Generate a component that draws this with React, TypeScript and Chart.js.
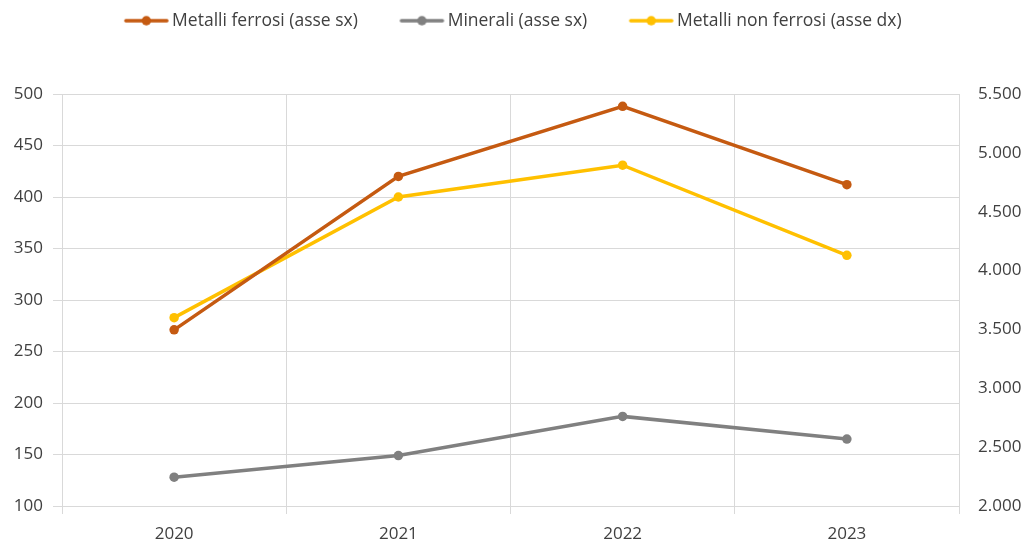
import React, { useEffect, useRef } from 'react';
import { Chart, registerables } from 'chart.js';

Chart.register(...registerables);

// ---- Data ----
const years: string[] = ['2020', '2021', '2022', '2023'];
const metalliFerrosi: number[] = [271, 420, 488, 412];
const minerali: number[] = [128, 149, 187, 165];
const metalliNonFerrosi: number[] = [3600, 4625, 4895, 4130];

const seriesLabels: string[] = [
  'Metalli ferrosi (asse sx)',
  'Minerali (asse sx)',
  'Metalli non ferrosi (asse dx)',
];
const seriesColors: string[] = ['#C55A11', '#808080', '#FFC000'];

const leftMin = 100;
const leftMax = 500;
const leftStep = 50;
const rightMin = 2000;
const rightMax = 5500;
const rightStep = 500;

const FONT = '"Open Sans", "Noto Sans", sans-serif';
const TEXT = '#404040';
const GRID = '#D9D9D9';
const TICK_SIZE = 17;
const LEGEND_SIZE = 17.5;

const fmtIt = (v: number | string) =>
  String(v).replace(/\B(?=(\d{3})+(?!\d))/g, '.');

// legend marker image: line of 44px with a dot, placed so that the drawn line
// starts at the legend item x (image is centred on x + boxWidth/2)
const LEG_BOX = 39;
const LEG_IMG_W = 88;
function makeLegendImage(color: string): HTMLCanvasElement {
  const c = document.createElement('canvas');
  c.width = LEG_IMG_W;
  c.height = 14;
  const ctx = c.getContext('2d')!;
  const x0 = LEG_IMG_W / 2 - LEG_BOX / 2;
  ctx.strokeStyle = color;
  ctx.lineWidth = 3.5;
  ctx.lineCap = 'round';
  ctx.beginPath();
  ctx.moveTo(x0 + 1.5, 7);
  ctx.lineTo(x0 + 42.5, 7);
  ctx.stroke();
  ctx.fillStyle = color;
  ctx.beginPath();
  ctx.arc(x0 + 22, 7, 4.75, 0, Math.PI * 2);
  ctx.fill();
  return c;
}

const legendHeightPlugin = {
  id: 'legendHeightFix',
  beforeLayout(chart: any) {
    const lg = chart.legend;
    if (lg && !lg.__patched) {
      const orig = lg.fit.bind(lg);
      lg.fit = function () {
        orig();
        lg.height = 124;
      };
      lg.__patched = true;
    }
  },
};

export default function App() {
  const canvasRef = useRef<HTMLCanvasElement | null>(null);

  useEffect(() => {
    document.body.style.margin = '0';
    const canvas = canvasRef.current;
    if (!canvas) return;
    const images = seriesColors.map(makeLegendImage);

    const mkDataset = (i: number, data: number[], axis: string) => ({
      label: seriesLabels[i],
      data,
      yAxisID: axis,
      borderColor: seriesColors[i],
      backgroundColor: seriesColors[i],
      borderWidth: 3.5,
      pointRadius: 4.75,
      pointBorderWidth: 0,
      pointBackgroundColor: seriesColors[i],
      tension: 0,
    });

    const chart = new Chart(canvas, {
      type: 'line',
      data: {
        labels: years,
        datasets: [
          mkDataset(0, metalliFerrosi, 'y'),
          mkDataset(1, minerali, 'y'),
          mkDataset(2, metalliNonFerrosi, 'y1'),
        ],
      },
      options: {
        animation: false,
        responsive: true,
        maintainAspectRatio: false,
        layout: { padding: { top: -30, left: 0, right: 0, bottom: 0 } },
        plugins: {
          tooltip: { enabled: false },
          legend: {
            position: 'top',
            labels: {
              color: TEXT,
              font: { family: FONT, size: LEGEND_SIZE },
              usePointStyle: true,
              pointStyleWidth: LEG_BOX,
              padding: 42,
              generateLabels: (ch: any) => {
                const base = Chart.defaults.plugins.legend.labels.generateLabels(ch);
                return base.map((l: any) => ({
                  ...l,
                  pointStyle: images[l.datasetIndex],
                  fontColor: TEXT,
                }));
              },
            },
          },
        },
        scales: {
          x: {
            offset: true,
            grid: {
              offset: true,
              color: GRID,
              tickColor: GRID,
              tickLength: 8,
              lineWidth: 1,
            },
            border: { display: false },
            ticks: {
              color: TEXT,
              font: { family: FONT, size: TICK_SIZE },
              padding: 10,
              maxRotation: 0,
            },
            afterFit: (s: any) => {
              s.height = 36;
            },
          },
          y: {
            position: 'left',
            min: leftMin,
            max: leftMax,
            grid: {
              color: GRID,
              tickColor: GRID,
              tickLength: 9,
              lineWidth: 1,
            },
            border: { display: false },
            ticks: {
              stepSize: leftStep,
              color: TEXT,
              font: { family: FONT, size: TICK_SIZE },
              padding: 10,
              callback: (v: any) => fmtIt(v),
            },
            afterFit: (s: any) => {
              s.width = 62;
            },
          },
          y1: {
            position: 'right',
            min: rightMin,
            max: rightMax,
            grid: { display: false, drawOnChartArea: false, drawTicks: false, tickLength: 0 },
            border: { display: false },
            ticks: {
              stepSize: rightStep,
              color: TEXT,
              font: { family: FONT, size: TICK_SIZE },
              padding: 19,
              callback: (v: any) => fmtIt(v),
            },
            afterFit: (s: any) => {
              s.width = 67;
            },
          },
        },
      },
      plugins: [legendHeightPlugin],
    } as any);

    return () => {
      chart.destroy();
    };
  }, []);

  return (
    <div style={{ position: 'relative', width: 1026, height: 542 }}>
      <canvas ref={canvasRef} />
    </div>
  );
}
